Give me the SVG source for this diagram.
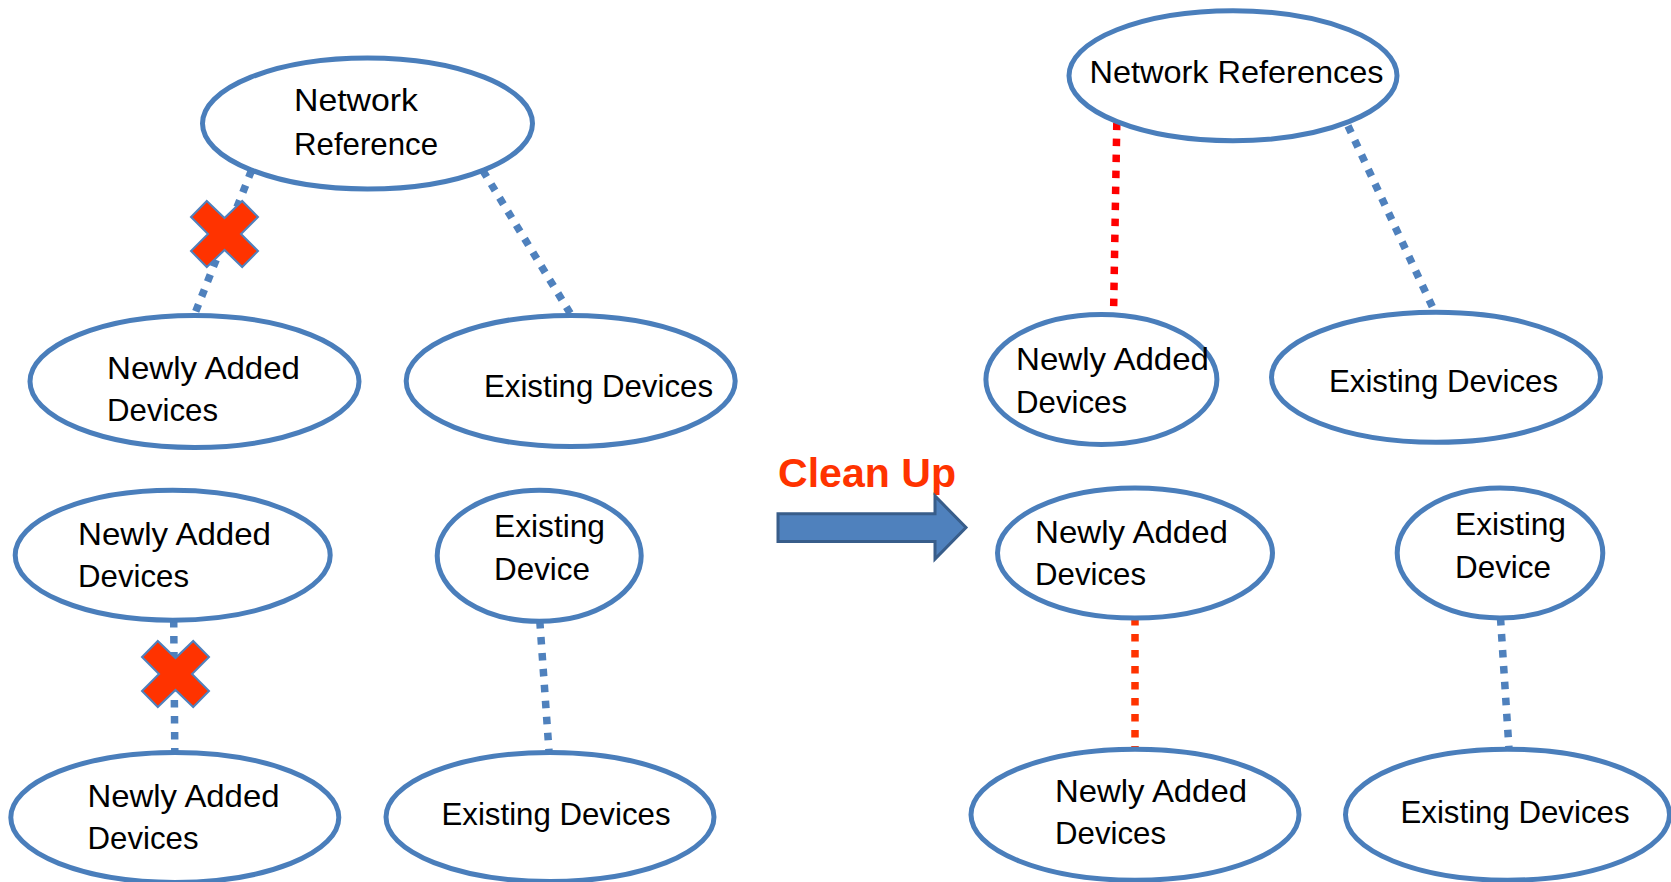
<svg xmlns="http://www.w3.org/2000/svg" width="1671" height="882" viewBox="0 0 1671 882">
<style>
.node ellipse{fill:#ffffff;stroke:#4A7EBB;stroke-width:5}
.lbl{font-family:"Liberation Sans",Arial,sans-serif;font-size:31.5px;fill:#000000}
.dot{fill:none;stroke-width:7.5;stroke-dasharray:7.5 8.5}
.blue{stroke:#4F81BD}
.red{stroke:#FF0000}
.orange{stroke:#FF3300}
.xm{fill:#FF3300;stroke:#4F81BD;stroke-width:2;stroke-linejoin:miter}
.title{font-family:"Liberation Sans",Arial,sans-serif;font-size:41px;font-weight:bold;fill:#FF3300}
</style>
<defs>
<polygon id="xmark" class="xm" points="-17.7,-33 0,-16 17.7,-33 33.5,-17 16.5,0 33.5,17 17.7,33 0,16 -17.7,33 -33.5,17 -16.5,0 -33.5,-17"/>
</defs>
<rect width="1671" height="882" fill="#ffffff"/>
<g id="connectors">
<line class="dot blue" x1="251.5" y1="170.5" x2="195" y2="313.3"/>
<line class="dot blue" x1="482.8" y1="170.5" x2="570.2" y2="313.3"/>
<line class="dot blue" x1="173.7" y1="620" x2="174.8" y2="752"/>
<line class="dot blue" x1="539.8" y1="621" x2="549" y2="751"/>
<line class="dot red" x1="1116.8" y1="122.6" x2="1113.6" y2="311.2"/>
<line class="dot blue" x1="1348" y1="125.8" x2="1433.4" y2="309"/>
<line class="dot orange" x1="1135" y1="618" x2="1135" y2="749"/>
<line class="dot blue" x1="1500.5" y1="618" x2="1509" y2="749"/>
</g>
<g id="marks">
<use href="#xmark" x="224.5" y="234"/>
<use href="#xmark" x="175.5" y="674"/>
</g>
<g id="node-network-reference" class="node">
<ellipse cx="367.5" cy="123.5" rx="165" ry="65.5"/>
<text class="lbl" x="294" y="111" textLength="124" lengthAdjust="spacingAndGlyphs">Network</text>
<text class="lbl" x="294" y="155" textLength="144" lengthAdjust="spacingAndGlyphs">Reference</text>
</g>
<g id="node-newly-added-1" class="node">
<ellipse cx="194.5" cy="381.5" rx="164.5" ry="66"/>
<text class="lbl" x="107" y="378.5" textLength="193" lengthAdjust="spacingAndGlyphs">Newly Added</text>
<text class="lbl" x="107" y="421" textLength="111" lengthAdjust="spacingAndGlyphs">Devices</text>
</g>
<g id="node-existing-1" class="node">
<ellipse cx="570.7" cy="381" rx="164.5" ry="65.5"/>
<text class="lbl" x="484" y="397" textLength="229" lengthAdjust="spacingAndGlyphs">Existing Devices</text>
</g>
<g id="node-newly-added-2" class="node">
<ellipse cx="172.7" cy="555.2" rx="157.5" ry="65"/>
<text class="lbl" x="78" y="545" textLength="193" lengthAdjust="spacingAndGlyphs">Newly Added</text>
<text class="lbl" x="78" y="587.3" textLength="111" lengthAdjust="spacingAndGlyphs">Devices</text>
</g>
<g id="node-existing-device-1" class="node">
<ellipse cx="539.2" cy="555.8" rx="102" ry="65.5"/>
<text class="lbl" x="494" y="537" textLength="111" lengthAdjust="spacingAndGlyphs">Existing</text>
<text class="lbl" x="494" y="580" textLength="96" lengthAdjust="spacingAndGlyphs">Device</text>
</g>
<g id="node-newly-added-3" class="node">
<ellipse cx="174.8" cy="817.4" rx="164" ry="65"/>
<text class="lbl" x="87.5" y="806.7" textLength="192" lengthAdjust="spacingAndGlyphs">Newly Added</text>
<text class="lbl" x="87.5" y="849.3" textLength="111" lengthAdjust="spacingAndGlyphs">Devices</text>
</g>
<g id="node-existing-2" class="node">
<ellipse cx="550" cy="817" rx="164" ry="64.5"/>
<text class="lbl" x="441.5" y="825" textLength="229" lengthAdjust="spacingAndGlyphs">Existing Devices</text>
</g>
<g id="node-network-references" class="node">
<ellipse cx="1233" cy="75.7" rx="164" ry="65"/>
<text class="lbl" x="1089.5" y="83.3" textLength="294" lengthAdjust="spacingAndGlyphs">Network References</text>
</g>
<g id="node-newly-added-4" class="node">
<ellipse cx="1101.4" cy="379.4" rx="115.5" ry="65"/>
<text class="lbl" x="1016" y="370" textLength="193" lengthAdjust="spacingAndGlyphs">Newly Added</text>
<text class="lbl" x="1016" y="413.3" textLength="111" lengthAdjust="spacingAndGlyphs">Devices</text>
</g>
<g id="node-existing-3" class="node">
<ellipse cx="1436" cy="377.3" rx="164.5" ry="65"/>
<text class="lbl" x="1329" y="391.7" textLength="229" lengthAdjust="spacingAndGlyphs">Existing Devices</text>
</g>
<g id="node-newly-added-5" class="node">
<ellipse cx="1135" cy="553" rx="137.5" ry="65"/>
<text class="lbl" x="1035" y="543.3" textLength="193" lengthAdjust="spacingAndGlyphs">Newly Added</text>
<text class="lbl" x="1035" y="585" textLength="111" lengthAdjust="spacingAndGlyphs">Devices</text>
</g>
<g id="node-existing-device-2" class="node">
<ellipse cx="1500" cy="553" rx="102.8" ry="65"/>
<text class="lbl" x="1455" y="535" textLength="111" lengthAdjust="spacingAndGlyphs">Existing</text>
<text class="lbl" x="1455" y="578.3" textLength="96" lengthAdjust="spacingAndGlyphs">Device</text>
</g>
<g id="node-newly-added-6" class="node">
<ellipse cx="1135" cy="814.7" rx="164" ry="65.5"/>
<text class="lbl" x="1055" y="801.7" textLength="192" lengthAdjust="spacingAndGlyphs">Newly Added</text>
<text class="lbl" x="1055" y="844" textLength="111" lengthAdjust="spacingAndGlyphs">Devices</text>
</g>
<g id="node-existing-4" class="node">
<ellipse cx="1507.5" cy="814.7" rx="162" ry="65.5"/>
<text class="lbl" x="1400.5" y="823.3" textLength="229" lengthAdjust="spacingAndGlyphs">Existing Devices</text>
</g>
<g id="cleanup">
<text class="title" x="778" y="486.7" textLength="178" lengthAdjust="spacingAndGlyphs">Clean Up</text>
<polygon points="778,513.7 935,513.7 935,496 966,527.5 935,559 935,541.4 778,541.4" fill="#4F81BD" stroke="#385D8A" stroke-width="3" stroke-linejoin="miter"/>
</g>
</svg>
